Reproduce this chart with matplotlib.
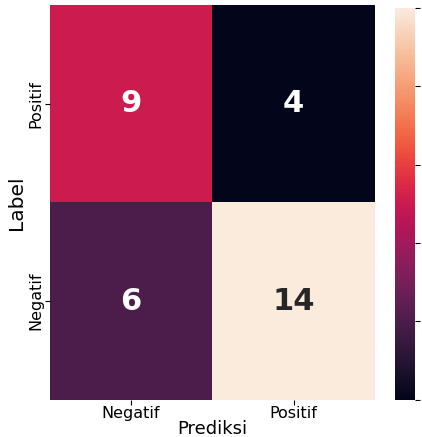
import numpy as np
import matplotlib
matplotlib.use('Agg')
import matplotlib.pyplot as plt
import seaborn as sns

# confusion matrix values
rows = ['Positif', 'Negatif']
cols = ['Negatif', 'Positif']
cm = np.array([[9, 4],
               [6, 14]])

fig = plt.figure(figsize=(4.22, 4.37), dpi=100)
ax = fig.add_axes([0.118, 0.085, 0.770, 0.904])
cax = fig.add_axes([0.936, 0.085, 0.047, 0.897])

sns.heatmap(cm, annot=True, fmt='d', cmap='rocket', ax=ax, cbar_ax=cax,
            xticklabels=cols, yticklabels=rows,
            annot_kws={'size': 22, 'weight': 'bold'})

ax.set_xlabel('Prediksi', fontsize=13, labelpad=-1)
ax.set_ylabel('Label', fontsize=14.5, labelpad=2)
ax.tick_params(axis='x', labelsize=11.5, pad=1)
ax.tick_params(axis='y', labelsize=11.5, pad=1)
cax.tick_params(labelsize=6)

fig.savefig('out.png', dpi=100)
